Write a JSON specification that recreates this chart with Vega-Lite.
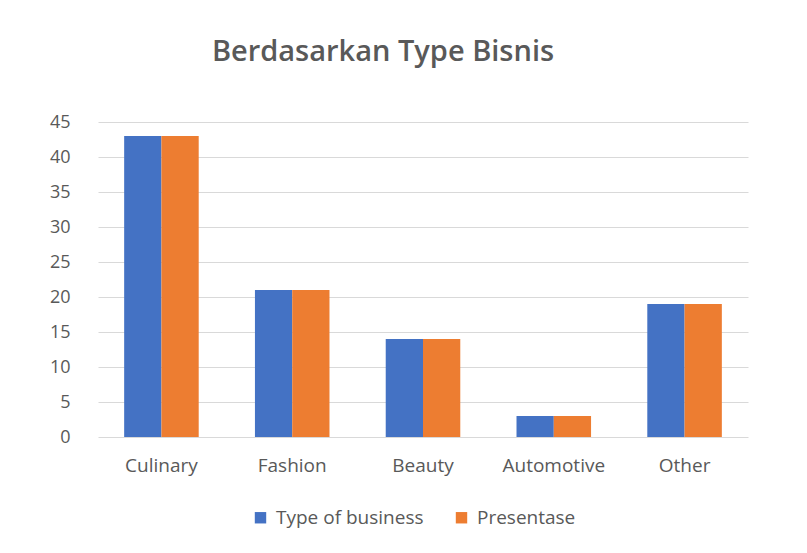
{
  "$schema": "https://vega.github.io/schema/vega-lite/v6.json",
  "autosize": "none",
  "width": 650,
  "height": 315,
  "padding": {"left": 98, "top": 122, "right": 59, "bottom": 116},
  "background": "white",
  "config": {
    "view": {"stroke": null},
    "font": "Open Sans"
  },
  "title": {
    "text": "Berdasarkan Type Bisnis",
    "fontSize": 29,
    "fontWeight": 600,
    "color": "#595959",
    "font": "Open Sans",
    "anchor": "middle",
    "offset": 46,
    "dx": -40
  },
  "data": {
    "values": [
      {"category": "Culinary", "series": "Type of business", "value": 43},
      {"category": "Culinary", "series": "Presentase", "value": 43},
      {"category": "Fashion", "series": "Type of business", "value": 21},
      {"category": "Fashion", "series": "Presentase", "value": 21},
      {"category": "Beauty", "series": "Type of business", "value": 14},
      {"category": "Beauty", "series": "Presentase", "value": 14},
      {"category": "Automotive", "series": "Type of business", "value": 3},
      {"category": "Automotive", "series": "Presentase", "value": 3},
      {"category": "Other", "series": "Type of business", "value": 19},
      {"category": "Other", "series": "Presentase", "value": 19}
    ]
  },
  "mark": {"type": "bar"},
  "encoding": {
    "x": {
      "field": "category",
      "type": "nominal",
      "sort": null,
      "scale": {"paddingInner": 0.43, "paddingOuter": 0.2},
      "axis": {
        "title": null,
        "labelAngle": 0,
        "labelFontSize": 19,
        "labelColor": "#595959",
        "labelPadding": 19,
        "domain": false,
        "ticks": false
      }
    },
    "xOffset": {
      "field": "series",
      "type": "nominal",
      "sort": ["Type of business", "Presentase"]
    },
    "y": {
      "field": "value",
      "type": "quantitative",
      "scale": {"domain": [0, 45]},
      "axis": {
        "title": null,
        "values": [0, 5, 10, 15, 20, 25, 30, 35, 40, 45],
        "labelFontSize": 18,
        "labelColor": "#595959",
        "labelPadding": 28,
        "domain": false,
        "ticks": false,
        "gridColor": "#d9d9d9",
        "gridWidth": 1
      }
    },
    "color": {
      "field": "series",
      "type": "nominal",
      "sort": ["Type of business", "Presentase"],
      "scale": {"domain": ["Type of business", "Presentase"], "range": ["#4472C4", "#ED7D31"]},
      "legend": {
        "title": null,
        "orient": "none",
        "direction": "horizontal",
        "legendX": 153,
        "legendY": 386,
        "symbolType": "square",
        "symbolSize": 130,
        "symbolStrokeWidth": 0,
        "labelFontSize": 19,
        "labelColor": "#595959",
        "labelOffset": 6,
        "columnPadding": 28
      }
    }
  }
}
